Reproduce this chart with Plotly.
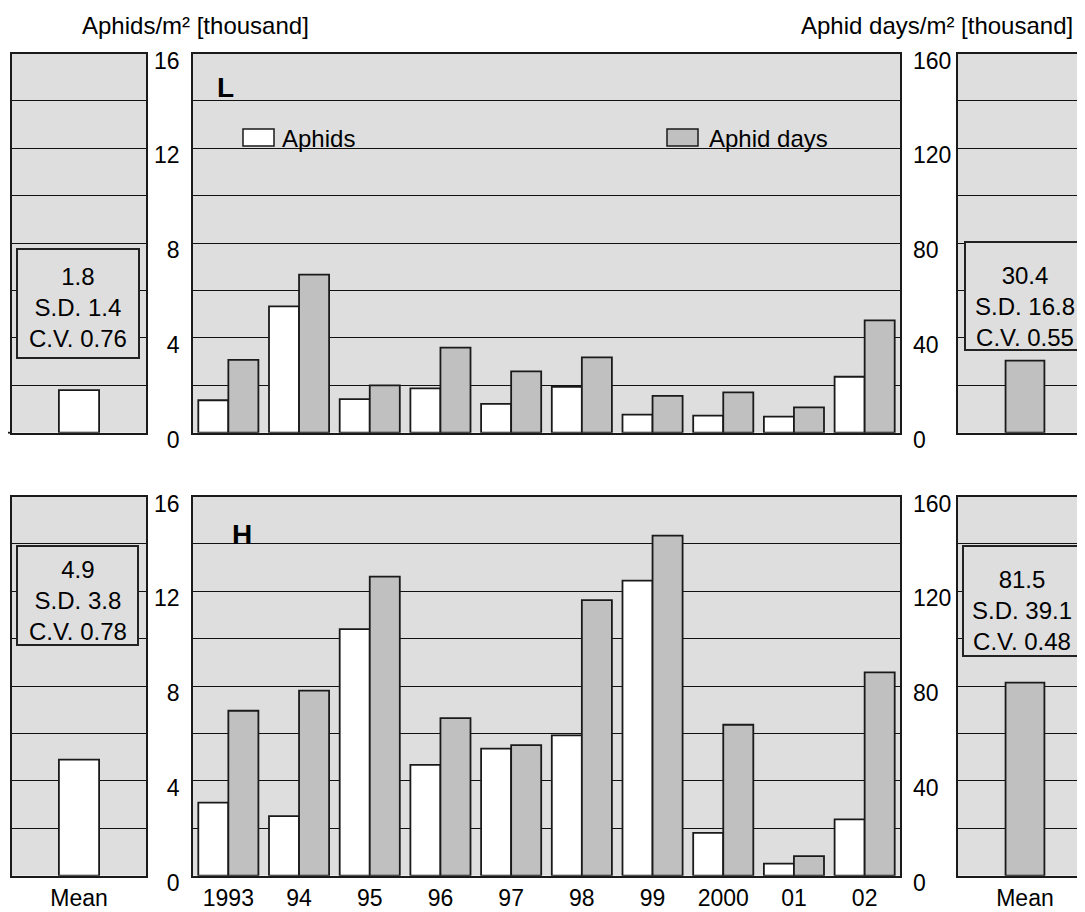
import plotly.graph_objects as go

# ---------------- data ----------------
years = ["1993", "94", "95", "96", "97", "98", "99", "2000", "01", "02"]
L_aphids = [1.37, 5.33, 1.42, 1.87, 1.22, 1.93, 0.76, 0.72, 0.68, 2.36]
L_days = [30.7, 66.7, 20.0, 35.9, 25.9, 31.8, 15.5, 17.0, 10.7, 47.4]
H_aphids = [3.08, 2.51, 10.4, 4.68, 5.36, 5.92, 12.45, 1.81, 0.51, 2.38]
H_days = [69.6, 78.1, 126.2, 66.5, 55.1, 116.3, 143.5, 63.7, 8.3, 85.8]

mean_cat = ["Mean"]
L_mean_aphids = [1.8]
L_mean_days = [30.4]
H_mean_aphids = [4.9]
H_mean_days = [81.5]
L_stats_aphids = ("1.8", "1.4", "0.76")
L_stats_days = ("30.4", "16.8", "0.55")
H_stats_aphids = ("4.9", "3.8", "0.78")
H_stats_days = ("81.5", "39.1", "0.48")

left_ticks = [0, 2, 4, 6, 8, 10, 12, 14, 16]
left_ticktext = ["0", "", "4", "", "8", "", "12", "", "16"]
right_ticks = [0, 20, 40, 60, 80, 100, 120, 140, 160]
right_ticktext = ["0", "", "40", "", "80", "", "120", "", "160"]

# ---------------- style ----------------
OFF = 8  # page body margin
W, H = 1085 - OFF, 912 - OFF
BG = "#dedede"
GRAY = "#c0c0c0"
LINE = "#1a1a1a"
FONT = "Arial, Liberation Sans, sans-serif"
FS = 23


def px(x):
    return (x - OFF) / W


def py(y):
    return 1 - (y - OFF) / H


top_dom = [py(432.7), py(53.5)]
bot_dom = [py(875.7), py(496.5)]
lm_dom = [px(12), px(146)]
main_dom = [px(193), px(900)]
rm_dom = [px(958), 1.0]

fig = go.Figure()

bar_line = dict(color=LINE, width=1.8)


def add_row(aph, days, m_aph, m_days, ids):
    lm, mn, mo, rm = ids
    fig.add_trace(go.Bar(x=mean_cat, y=m_aph, width=0.3, marker=dict(color="white", line=bar_line),
                         xaxis=f"x{lm}", yaxis=f"y{lm}", name="Aphids"))
    fig.add_trace(go.Bar(x=years, y=aph, offset=-0.425, width=0.425,
                         marker=dict(color="white", line=bar_line),
                         xaxis=f"x{mn}", yaxis=f"y{mn}", name="Aphids"))
    fig.add_trace(go.Bar(x=years, y=days, offset=0.0, width=0.425,
                         marker=dict(color=GRAY, line=bar_line),
                         xaxis=f"x{mn}", yaxis=f"y{mo}", name="Aphid days"))
    fig.add_trace(go.Bar(x=mean_cat, y=m_days, width=0.29,
                         marker=dict(color=GRAY, line=bar_line),
                         xaxis=f"x{rm}", yaxis=f"y{rm}", name="Aphid days"))


add_row(L_aphids, L_days, L_mean_aphids, L_mean_days, (1, 2, 3, 4))
add_row(H_aphids, H_days, H_mean_aphids, H_mean_days, (5, 6, 7, 8))

axis_line = dict(showline=True, linecolor=LINE, linewidth=1.8, mirror=True, automargin=False)
grid = dict(showgrid=True, gridcolor="#111111", gridwidth=1.4, zeroline=False)
tickfont = dict(family=FONT, size=FS, color="black")

layout = dict(width=W, height=H, margin=dict(l=0, r=0, t=0, b=0, pad=0, autoexpand=False),
              paper_bgcolor="white", plot_bgcolor=BG, showlegend=False,
              barmode="overlay", font=dict(family=FONT, size=FS, color="black"))


def row_axes(ids, ydom, show_x):
    lm, mn, mo, rm = ids
    layout[f"xaxis{lm}"] = dict(domain=lm_dom, anchor=f"y{lm}", type="category", range=[-0.5, 0.5],
                                showticklabels=show_x, ticks="", tickfont=tickfont,
                                ticklabelstandoff=1, showgrid=False, **axis_line)
    layout[f"yaxis{lm}"] = dict(domain=ydom, anchor=f"x{lm}", range=[0, 16], tickvals=left_ticks,
                                showticklabels=False, ticks="", **grid, **axis_line)
    layout[f"xaxis{mn}"] = dict(domain=main_dom, anchor=f"y{mn}", type="category", range=[-0.5, 9.5],
                                showticklabels=show_x, ticks="", tickfont=tickfont,
                                ticklabelstandoff=1, showgrid=False, **axis_line)
    layout[f"yaxis{mn}"] = dict(domain=ydom, anchor=f"x{mn}", range=[0, 16], tickvals=left_ticks,
                                ticktext=left_ticktext, ticks="", tickfont=tickfont,
                                ticklabelstandoff=7, ticklabelshift=7, **grid, **axis_line)
    layout[f"yaxis{mo}"] = dict(domain=ydom, anchor=f"x{mn}", overlaying=f"y{mn}", side="right",
                                range=[0, 160], tickvals=right_ticks, ticktext=right_ticktext,
                                ticks="", tickfont=tickfont, ticklabelstandoff=12, ticklabelshift=7,
                                showgrid=False, zeroline=False, showline=False, automargin=False)
    layout[f"xaxis{rm}"] = dict(domain=rm_dom, anchor=f"y{rm}", type="category", range=[-0.5, 0.448],
                                showticklabels=show_x, ticks="", tickfont=tickfont,
                                ticklabelstandoff=1, showgrid=False, **axis_line)
    layout[f"yaxis{rm}"] = dict(domain=ydom, anchor=f"x{rm}", range=[0, 160], tickvals=right_ticks,
                                showticklabels=False, ticks="", **grid, **axis_line)


row_axes((1, 2, 3, 4), top_dom, False)
row_axes((5, 6, 7, 8), bot_dom, True)

fig.update_layout(**layout)

ann = []
shapes = []


def text(x, y, s, size=FS, bold=False, xanchor="center"):
    ann.append(dict(x=px(x), y=py(y), xref="paper", yref="paper", text=(f"<b>{s}</b>" if bold else s),
                    showarrow=False, xanchor=xanchor, yanchor="middle",
                    font=dict(family=FONT, size=size, color="black")))


text(195, 26, "Aphids/m² [thousand]", size=24)
text(1075, 26, "Aphid days/m² [thousand]", size=24, xanchor="right")
text(225, 87, "L", size=28, bold=True)
text(242, 534, "H", size=28, bold=True)

shapes.append(dict(type="rect", xref="paper", yref="paper", x0=px(243), x1=px(274), y0=py(146), y1=py(129),
                   fillcolor="white", line=dict(color=LINE, width=1.5)))
text(280, 138, "Aphids", size=24, xanchor="left")
shapes.append(dict(type="rect", xref="paper", yref="paper", x0=px(667), x1=px(698), y0=py(146), y1=py(129),
                   fillcolor=GRAY, line=dict(color=LINE, width=1.5)))
text(707, 138, "Aphid days", size=24, xanchor="left")


def stat_box(x0, x1, y0, y1, cx, cy, st):
    shapes.append(dict(type="rect", xref="paper", yref="paper", x0=px(x0), x1=px(x1), y0=py(y1), y1=py(y0),
                       fillcolor=BG, line=dict(color="#222222", width=2)))
    m, sd, cv = st
    text(cx, cy, f"{m}<br>S.D. {sd}<br>C.V. {cv}", size=24)


stat_box(17, 139, 249, 358, 78, 308, L_stats_aphids)
stat_box(965, 1083, 242, 350, 1025, 306, L_stats_days)
stat_box(17, 138, 546, 645, 78, 600, H_stats_aphids)
stat_box(963, 1083, 546, 656, 1022, 610, H_stats_days)

shapes.append(dict(type="line", xref="paper", yref="paper", x0=px(8), x1=px(12), y0=py(432.7), y1=py(432.7),
                   line=dict(color=LINE, width=1.8)))

fig.update_layout(annotations=ann, shapes=shapes)
fig.write_html("out.html")
